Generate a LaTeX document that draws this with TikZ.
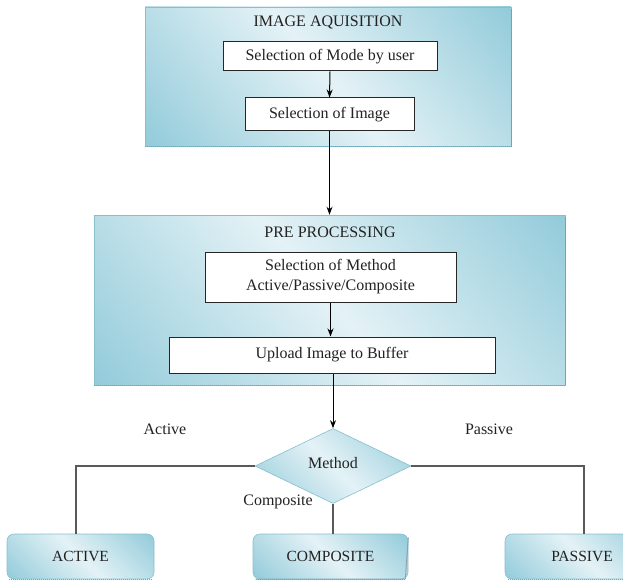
\documentclass[tikz,border=0pt]{standalone}
\usepackage{fontspec}
\setmainfont{Liberation Serif}
\usetikzlibrary{arrows.meta,shapes.geometric}
\definecolor{dk}{HTML}{8CC8D8}
\definecolor{lt}{HTML}{E4F2F6}
\definecolor{bd}{HTML}{86BFCE}
\definecolor{shd}{HTML}{8A9CA2}
\definecolor{txt}{HTML}{222222}
\pgfdeclarehorizontalshading{boxshade}{100bp}{color(0bp)=(dk); color(12bp)=(dk); color(50bp)=(lt); color(88bp)=(dk); color(100bp)=(dk)}
\tikzset{
  bigbox/.style={draw=bd, line width=0.6pt, shading=boxshade, shading angle=40, rectangle, inner sep=0pt},
  wbox/.style={draw=black!85, fill=white, line width=1pt, rectangle, inner sep=0pt, text=txt, font=\fontsize{16}{20}\selectfont, align=center},
  endbox/.style={draw=bd, line width=0.6pt, shading=boxshade, shading angle=45, rectangle, rounded corners=7pt, inner sep=0pt, minimum height=45pt, text=txt, font=\fontsize{15.5}{18}\selectfont},
  ttl/.style={text=txt, font=\fontsize{16}{19}\selectfont},
  lbl/.style={text=txt, font=\fontsize{16}{19}\selectfont},
  arr/.style={draw=black, line width=1pt, -{Stealth[length=8pt,width=6pt]}},
  conn/.style={draw=black!65, line width=1.4pt},
  shadow/.style={draw=shd, line width=1pt, dash pattern=on 1.5pt off 0.5pt}
}
\begin{document}
\begin{tikzpicture}[x=1pt,y=-1pt]
\useasboundingbox (0,0) rectangle (623,580);
\clip (0,0) rectangle (623,580);
% containers
\node[bigbox, minimum width=366pt, minimum height=139pt] (acq) at (328,76.5) {};
\draw[shadow] (acq.south west) -- (acq.south east) -- ([yshift=-2pt]acq.north east);
\node[bigbox, minimum width=471pt, minimum height=170pt] (pre) at (329.5,300) {};
\draw[shadow] (pre.south west) -- (pre.south east) -- ([yshift=-2pt]pre.north east);
\node[ttl] (acqt) at (328,23) {IMAGE AQUISITION};
\node[ttl] (pret) at (330,232) {PRE PROCESSING};
% inner boxes
\node[wbox, minimum width=214pt, minimum height=29pt] (mode) at (330,56.5) {Selection of Mode by user};
\node[wbox, minimum width=169pt, minimum height=33pt] (img) at (329.5,114.5) {Selection of Image};
\node[wbox, minimum width=251pt, minimum height=50pt] (meth) at (330.5,277) {Selection of Method\\Active/Passive/Composite};
\node[wbox, minimum width=326pt, minimum height=36pt] (upl) at (332,355) {Upload Image to Buffer};
% decision
\node[diamond, draw=bd, line width=0.6pt, shading=boxshade, shading angle=45, minimum width=156pt, minimum height=75pt, aspect=2.08, inner sep=0pt, text=txt, font=\fontsize{16}{19}\selectfont] (dec) at (333,466) {\raisebox{6pt}{Method}};
% end boxes
\node[endbox, minimum width=147pt] (act) at (80.5,556.5) {ACTIVE};
\node[endbox, minimum width=155pt] (comp) at (330.5,556.5) {COMPOSITE};
\node[endbox, minimum width=154pt] (pas) at (582,556.5) {PASSIVE};
\draw[shadow] ([xshift=2pt]act.south west) -- ([xshift=-3pt]act.south east);
\draw[shadow] ([xshift=3pt]comp.south west) -- ([xshift=-3pt]comp.south east) -- ([yshift=-4pt]comp.north east);
\draw[shadow] ([xshift=3pt]pas.south west) -- ([xshift=-3pt]pas.south east);
% labels
\node[lbl] (la) at (165,429) {Active};
\node[lbl] (lp) at (489,429) {Passive};
\node[lbl] (lc) at (278,502) {Composite};
% connectors
\draw[arr] (mode.south) -- (img.north);
\draw[arr] (img.south) -- (pre.north -| img.south);
\draw[arr] (meth.south) -- (upl.north -| meth.south);
\draw[arr] (upl.south -| dec.north) -- (dec.north);
\coordinate (ca) at (act.north -| 76,0);
\coordinate (cp) at (pas.north -| 584,0);
\draw[conn] (dec.west) -| (ca);
\draw[conn] (dec.east) -| (cp);
\draw[conn] (dec.south) -- (comp.north -| dec.south);
\end{tikzpicture}
\end{document}
